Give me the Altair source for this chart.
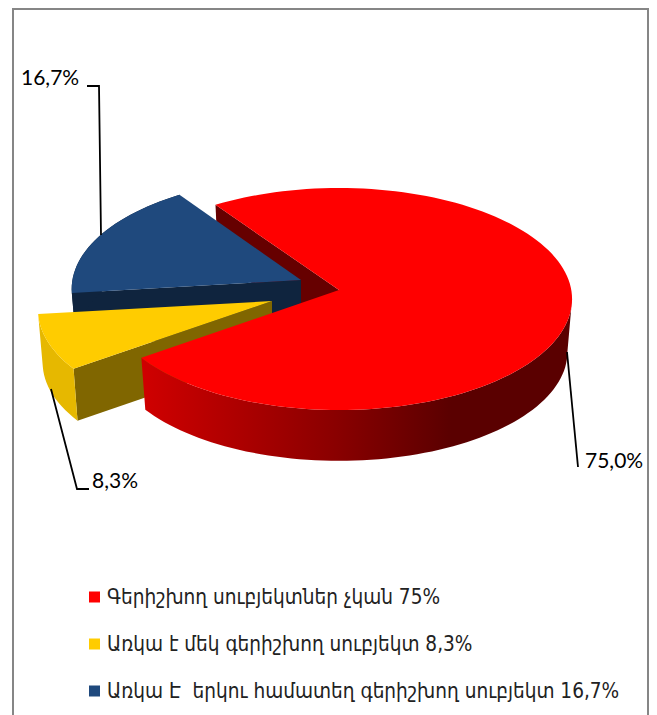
import math
import altair as alt

# ---- chart values ----
shares = [75.0, 8.3, 16.7]
share_labels = ["75,0%", "8,3%", "16,7%"]
legend_labels = [
    "Գերիշխող սուբյեկտներ չկան 75%",
    "Առկա է մեկ գերիշխող սուբյեկտ 8,3%",
    "Առկա Է\u00a0 երկու համատեղ գերիշխող սուբյեկտ 16,7%",
]
top_colors = ["#FF0000", "#FFCC00", "#1F497D"]
rim_colors = ["#CC0000", "#E6B800", "#0F243E"]
face_colors = ["#660000", "#806600", "#0F243E"]

# ---- drawing geometry of the tilted pie ----
centres = [(339, 299), (272, 310), (301, 289)]
sizes = [0.996, 1.0, 0.98]   # further slices look a little smaller
A, B = 234, 111          # ellipse half axes
APEX = 9                 # apex sits this far above the ellipse centre
DEPTH = 53
SHRINK = 0.98            # perspective of the lower edge
START = -32.0

spans, cum = [], START
for s in shares:
    spans.append((cum, cum + s * 3.6))
    cum += s * 3.6


def pt(i, deg, low=False):
    c = centres[i]
    t = math.radians(deg)
    k = SHRINK if low else 1.0
    return [c[0] + k * sizes[i] * A * math.sin(t),
            c[1] - k * B * math.cos(t) + (DEPTH if low else 0)]


def arc(i, t0, t1, low=False):
    n = max(2, int(abs(t1 - t0) / 2))
    return [pt(i, t0 + (t1 - t0) * j / n, low) for j in range(n + 1)]


def apex(i, low=False):
    c = centres[i]
    return [c[0], c[1] - APEX + (DEPTH if low else 0)]


def poly(points, fill):
    ring = points + [points[0]]
    return {"type": "Feature", "properties": {"fill": fill},
            "geometry": {"type": "Polygon", "coordinates": [ring]}}


def top(i):
    return poly([apex(i)] + arc(i, *spans[i]), top_colors[i])


def rim(i, t0, t1):
    return poly(arc(i, t0, t1) + arc(i, t1, t0, True), rim_colors[i])


def face(i, deg):
    return poly([apex(i), pt(i, deg), pt(i, deg, True), apex(i, True)], face_colors[i])


proj = alt.Projection(type="identity", scale=1, translate=[-8, -8])


def shapes(features):
    return alt.Chart(alt.Data(values=features)).mark_geoshape(strokeWidth=0).encode(
        fill=alt.Fill("properties.fill:N", scale=None)
    ).project(**proj.to_dict())


back = shapes([
    face(0, spans[0][0]),
    face(2, spans[2][0]), rim(2, *spans[2]), top(2),
    face(1, spans[1][0]), rim(1, *spans[1]), top(1),
])

red_rim_gradient = alt.Gradient(
    gradient="linear", x1=0, x2=1, y1=0, y2=0,
    stops=[alt.GradientStop(color="#D00000", offset=0),
           alt.GradientStop(color="#8A0000", offset=0.45),
           alt.GradientStop(color="#5A0000", offset=0.72),
           alt.GradientStop(color="#5A0000", offset=1)],
)
red_rim = alt.Chart(alt.Data(values=[rim(0, 90, spans[0][1])])).mark_geoshape(
    fill=red_rim_gradient, strokeWidth=0
).project(**proj.to_dict())
red_top = shapes([top(0)])


# frame and leader lines
def line(points):
    return {"type": "Feature", "properties": {},
            "geometry": {"type": "LineString", "coordinates": points}}


frame = alt.Chart(alt.Data(values=[line([[13, 724], [13, 9], [648, 9], [648, 724]])])).mark_geoshape(
    filled=False, stroke="#868686", strokeWidth=2
).project(**proj.to_dict())

leaders = alt.Chart(alt.Data(values=[
    line([[87, 86], [99, 86], [101, 235]]),
    line([[51, 389], [77, 489], [89, 489]]),
    line([[567, 352], [578, 467]]),
])).mark_geoshape(filled=False, stroke="#000000", strokeWidth=1.8).project(**proj.to_dict())

pct_rows = [
    {"t": share_labels[0], "x": 585, "y": 468},
    {"t": share_labels[1], "x": 92, "y": 488},
    {"t": share_labels[2], "x": 21, "y": 85},
]
pct = alt.Chart(alt.Data(values=pct_rows)).mark_text(
    font="Lato", fontSize=21, align="left", baseline="alphabetic", color="#000000"
).encode(longitude="x:Q", latitude="y:Q", text="t:N").project(**proj.to_dict())

row_y = [597, 644, 691]
leg_rows = [{"t": t, "c": c, "y": y, "sx": 94.5, "tx": 107, "ty": y + 7}
            for t, c, y in zip(legend_labels, top_colors, row_y)]
leg_sq = alt.Chart(alt.Data(values=leg_rows)).mark_point(
    shape="square", filled=True, size=121, opacity=1, strokeWidth=0
).encode(longitude="sx:Q", latitude="y:Q", fill=alt.Fill("c:N", scale=None)).project(**proj.to_dict())
leg_text = alt.Chart(alt.Data(values=leg_rows)).mark_text(
    font="DejaVu Sans Condensed", fontSize=20.6, align="left", baseline="alphabetic", color="#222222"
).encode(longitude="tx:Q", latitude="ty:Q", text="t:N").project(**proj.to_dict())

chart = alt.layer(frame, back, red_rim, red_top, leaders, pct, leg_sq, leg_text).properties(
    width=641, height=707, padding=0, autosize="none", background="#FFFFFF"
).configure_view(stroke=None)

chart.save("out.html", embed_options={"renderer": "svg", "actions": False})
